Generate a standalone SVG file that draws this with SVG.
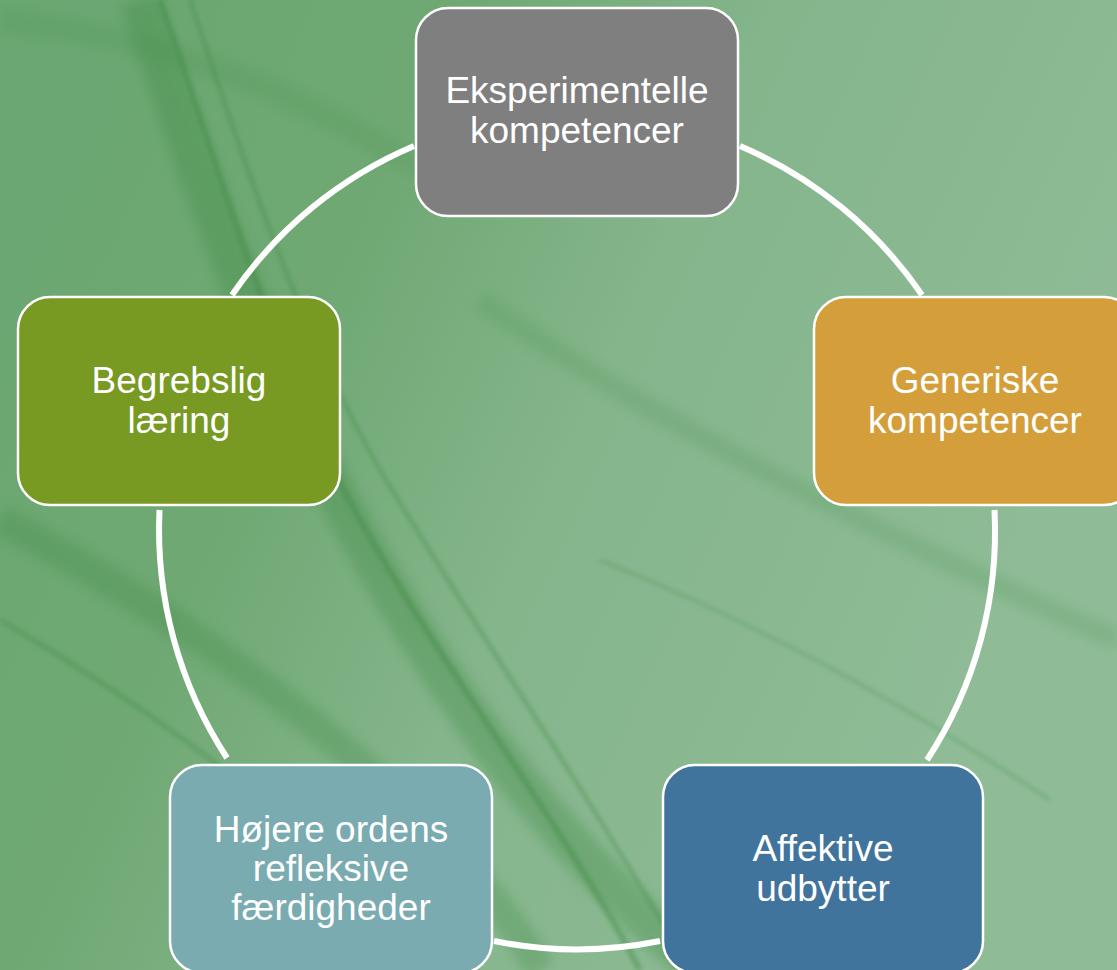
<svg xmlns="http://www.w3.org/2000/svg" width="1117" height="970" viewBox="0 0 1117 970">
<defs>
<linearGradient id="bg" x1="0" y1="0" x2="1" y2="0.4">
<stop offset="0" stop-color="#6aa772"/>
<stop offset="0.35" stop-color="#6fa873"/>
<stop offset="0.6" stop-color="#84b58b"/>
<stop offset="1" stop-color="#8fbc96"/>
</linearGradient>
<filter id="blur" x="-20%" y="-20%" width="140%" height="140%"><feGaussianBlur stdDeviation="6"/></filter>
<filter id="blur2" x="-20%" y="-20%" width="140%" height="140%"><feGaussianBlur stdDeviation="2"/></filter>
<style>
.box{stroke:#ffffff;stroke-width:2.5}
.lbl{font-family:"Liberation Sans",Arial,sans-serif;font-size:37px;fill:#ffffff;text-anchor:middle}
.arc{fill:none;stroke:#ffffff;stroke-width:6}
.streak{fill:none;stroke:#3f8a45}
</style>
</defs>
<rect width="1117" height="970" fill="url(#bg)"/>
<g id="background-streaks">
<path class="streak" d="M140 0 C220 250 300 450 420 640 C520 800 620 900 700 970" stroke-width="40" opacity="0.35" filter="url(#blur)"/>
<path class="streak" d="M160 0 C230 200 280 380 360 520 C450 680 560 820 640 970" stroke-width="6" opacity="0.45" filter="url(#blur2)"/>
<path class="streak" d="M190 0 C250 180 300 330 380 470 C470 620 580 780 690 970" stroke-width="4" opacity="0.4" filter="url(#blur2)"/>
<path class="streak" d="M0 520 C150 600 300 700 420 820 C480 880 520 930 540 970" stroke-width="30" opacity="0.3" filter="url(#blur)"/>
<path class="streak" d="M0 620 C120 690 250 780 350 880" stroke-width="5" opacity="0.35" filter="url(#blur2)"/>
<path class="streak" d="M480 300 C650 420 850 520 1117 640" stroke-width="20" opacity="0.18" filter="url(#blur)"/>
<path class="streak" d="M600 560 C750 620 900 700 1050 800" stroke-width="4" opacity="0.25" filter="url(#blur2)"/>
<path class="streak" d="M0 20 C200 40 350 120 470 200" stroke-width="24" opacity="0.15" filter="url(#blur)"/>
</g>
<g id="connectors">
<path class="arc" d="M740 146 A418 418 0 0 1 922 295"/>
<path class="arc" d="M994.5 510 A418 418 0 0 1 927 760"/>
<path class="arc" d="M660 941 A418 418 0 0 1 494 941"/>
<path class="arc" d="M227 758 A418 418 0 0 1 159.5 510"/>
<path class="arc" d="M232 295 A418 418 0 0 1 414 146"/>
</g>
<g id="node-eksperimentelle">
<rect class="box" x="416" y="8" width="322" height="208" rx="32" fill="#7f7f7f"/>
<text class="lbl" x="577" y="103">Eksperimentelle</text>
<text class="lbl" x="577" y="143">kompetencer</text>
</g>
<g id="node-generiske">
<rect class="box" x="814" y="297" width="322" height="208" rx="32" fill="#d49f3b"/>
<text class="lbl" x="975" y="393">Generiske</text>
<text class="lbl" x="975" y="433">kompetencer</text>
</g>
<g id="node-affektive">
<rect class="box" x="663" y="765" width="320" height="208" rx="32" fill="#41749c"/>
<text class="lbl" x="823" y="861">Affektive</text>
<text class="lbl" x="823" y="901">udbytter</text>
</g>
<g id="node-hojere">
<rect class="box" x="170" y="765" width="322" height="208" rx="32" fill="#79abb0"/>
<text class="lbl" x="331" y="842">Højere ordens</text>
<text class="lbl" x="331" y="881">refleksive</text>
<text class="lbl" x="331" y="920">færdigheder</text>
</g>
<g id="node-begrebslig">
<rect class="box" x="18" y="297" width="322" height="208" rx="32" fill="#789922"/>
<text class="lbl" x="179" y="393">Begrebslig</text>
<text class="lbl" x="179" y="433">læring</text>
</g>
</svg>
